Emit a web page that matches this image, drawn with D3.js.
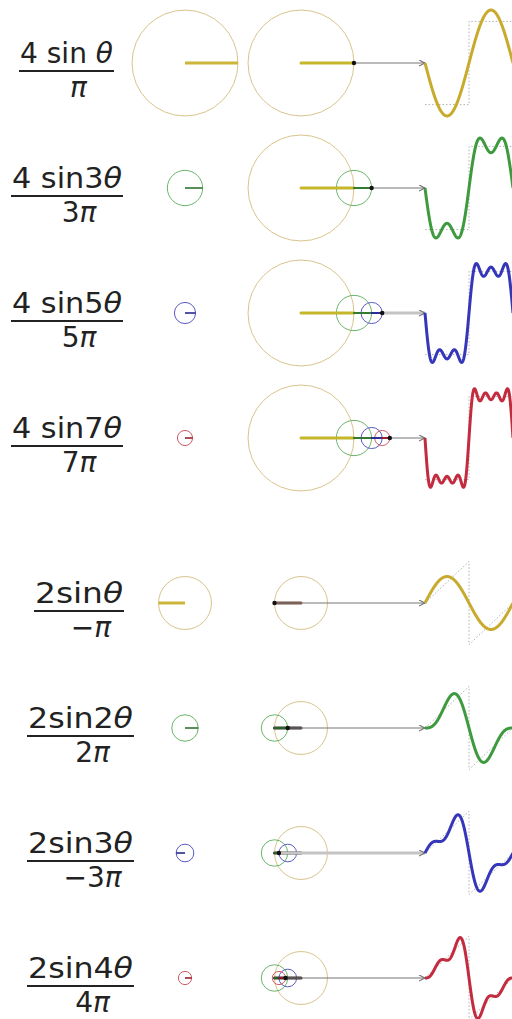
<!DOCTYPE html>
<html>
<head>
<meta charset="utf-8">
<script src="https://cdn.jsdelivr.net/npm/d3@7"></script>
<style>
  body { margin: 0; background: #fff; }
  svg { display: block; }
  text { font-family: "DejaVu Sans", Verdana, sans-serif; fill: #222; }
</style>
</head>
<body>
<div id="chart"></div>
<script>
// square wave terms: 4 sin(kθ) / (kπ)
const squareHarmonics = [1, 3, 5, 7];
const squareCoefs = [4 / Math.PI, 4 / (3 * Math.PI), 4 / (5 * Math.PI), 4 / (7 * Math.PI)];
const squareNumerators = ['4 sin ', '4 sin3', '4 sin5', '4 sin7'];
const squareDenominators = ['', '3', '5', '7'];

// sawtooth terms: 2 sin(kθ) / (±kπ)
const sawHarmonics = [1, 2, 3, 4];
const sawCoefs = [-2 / Math.PI, 2 / (2 * Math.PI), -2 / (3 * Math.PI), 2 / (4 * Math.PI)];
const sawNumerators = ['2sin', '2sin2', '2sin3', '2sin4'];
const sawDenominators = ['\u2212', '2', '\u22123', '4'];

const waveColors = ['#c8aa2c', '#3e9a3e', '#3636bb', '#c32b3e'];
const circleColors = ['#d8c48c', '#6ab46a', '#5a5ac8', '#cf5a64'];

const width = 512;
const height = 1019;
const unit = 41.6;          // px for a value of 1
const theta0 = 0;

const svg = d3.select('#chart').append('svg')
    .attr('width', width)
    .attr('height', height);

svg.append('defs').append('marker')
    .attr('id', 'arrow')
    .attr('viewBox', '0 -4 8 8')
    .attr('refX', 7).attr('refY', 0)
    .attr('markerWidth', 7).attr('markerHeight', 7)
    .attr('markerUnits', 'userSpaceOnUse')
    .attr('orient', 'auto')
    .append('path')
    .attr('d', 'M0,-3.5L7,0L0,3.5')
    .attr('fill', 'none')
    .attr('stroke', '#666')
    .attr('stroke-width', 1.2);

const rScale = d3.scaleLinear().domain([0, 1]).range([0, unit]);
const tScale = d3.scaleLinear().domain([0, 2 * Math.PI]).range([425, 513]);
const samples = d3.range(0, 2 * Math.PI + 1e-6, 2 * Math.PI / 500);

const groups = [
    { harm: squareHarmonics, coefs: squareCoefs, nums: squareNumerators, dens: squareDenominators,
      top: 63, kind: 'square', labelX: [66.5, 67, 67, 67], labelW: [93, 110, 110, 110] },
    { harm: sawHarmonics, coefs: sawCoefs, nums: sawNumerators, dens: sawDenominators,
      top: 603, kind: 'saw', labelX: [79, 80.5, 80.5, 80.5], labelW: [88, 105, 105, 105] }
];

function drawLabel(g, grp, i, cy) {
    const cx = grp.labelX[i];
    const w = grp.labelW[i];
    const num = g.append('text')
        .attr('x', cx).attr('y', cy)
        .attr('text-anchor', 'middle')
        .attr('font-size', 28)
        .attr('textLength', w)
        .attr('lengthAdjust', 'spacingAndGlyphs');
    num.append('tspan').text(grp.nums[i]);
    num.append('tspan').attr('font-style', 'italic').text('\u03b8');

    g.append('line')
        .attr('x1', cx - w / 2 - 1).attr('x2', cx + w / 2 + 1)
        .attr('y1', cy + 8).attr('y2', cy + 8)
        .attr('stroke', '#222').attr('stroke-width', 2);

    const den = g.append('text')
        .attr('x', cx + 12).attr('y', cy + 34)
        .attr('text-anchor', 'middle')
        .attr('font-size', 28);
    den.append('tspan').text(grp.dens[i]);
    den.append('tspan').attr('font-style', 'italic').text('\u03c0');
}

function phasor(g, x, y, c, k, color, vecColor, vecWidth) {
    const r = rScale(Math.abs(c));
    g.append('circle')
        .attr('cx', x).attr('cy', y).attr('r', r)
        .attr('fill', 'none')
        .attr('stroke', color)
        .attr('stroke-width', 1);
    const nx = x + rScale(c) * Math.cos(k * theta0);
    const ny = y - rScale(c) * Math.sin(k * theta0);
    return { x, y, nx, ny, vecColor, vecWidth };
}

groups.forEach(grp => {
    grp.harm.forEach((k, i) => {
        const cy = grp.top + i * 125;
        const g = svg.append('g');
        const yScale = d3.scaleLinear().domain([-1, 1]).range([cy + unit, cy - unit]);

        drawLabel(g, grp, i, cy);

        // single term on its own
        const solo = phasor(g, 185, cy, grp.coefs[i], k, circleColors[i],
            i === 0 ? '#cdb43a' : d3.color(waveColors[i]).darker(0.8), i === 0 ? 3 : 1.6);
        g.append('line')
            .attr('x1', solo.x).attr('y1', solo.y).attr('x2', solo.nx).attr('y2', solo.ny)
            .attr('stroke', solo.vecColor).attr('stroke-width', solo.vecWidth);

        // terms added up, circle on circle
        let px = 301, py = cy;
        const vecs = [];
        for (let j = 0; j <= i; j++) {
            const vc = grp.kind === 'square'
                ? (j === 0 ? '#c6b62a' : d3.color(waveColors[j]).darker(0.6))
                : (j === 0 ? (i === 0 ? '#7a5040' : '#3a3030') : d3.color(waveColors[j]).darker(1.2));
            const p = phasor(g, px, py, grp.coefs[j], grp.harm[j], circleColors[j], vc, j === 0 ? 3 : 2);
            vecs.push(p);
            px = p.nx; py = p.ny;
        }
        vecs.forEach(p => {
            g.append('line')
                .attr('x1', p.x).attr('y1', p.y).attr('x2', p.nx).attr('y2', p.ny)
                .attr('stroke', p.vecColor).attr('stroke-width', p.vecWidth)
                .attr('stroke-linecap', 'round');
        });

        const lightArrow = (grp.kind === 'square' && i === 2) || (grp.kind === 'saw' && i === 2);
        g.append('line')
            .attr('x1', px).attr('y1', py)
            .attr('x2', tScale(0)).attr('y2', py)
            .attr('stroke', lightArrow ? '#c4c4c4' : '#777')
            .attr('stroke-width', lightArrow ? 3 : 1.2)
            .attr('marker-end', 'url(#arrow)');
        g.append('circle')
            .attr('cx', px).attr('cy', py).attr('r', 2.2)
            .attr('fill', '#111');

        // target shape, dotted
        const half = Math.PI;
        const target = grp.kind === 'square'
            ? [[0, -1], [half, -1], [half, 1], [2 * half, 1]]
            : [[0, 0], [half, 1], [half, -1], [2 * half, 0]];
        g.append('path')
            .attr('d', d3.line().x(d => tScale(d[0])).y(d => yScale(d[1]))(target))
            .attr('fill', 'none')
            .attr('stroke', '#b0b0b0')
            .attr('stroke-width', 1)
            .attr('stroke-dasharray', '1.5,2');

        // traced wave: sum of terms, time running back to the right
        const value = t => d3.sum(d3.range(i + 1), j => grp.coefs[j] * Math.sin(grp.harm[j] * (theta0 - t)));
        g.append('path')
            .attr('d', d3.line().x(t => tScale(t)).y(t => yScale(value(t)))(samples))
            .attr('fill', 'none')
            .attr('stroke', waveColors[i])
            .attr('stroke-width', 3)
            .attr('stroke-linejoin', 'round');
    });
});
</script>
</body>
</html>
